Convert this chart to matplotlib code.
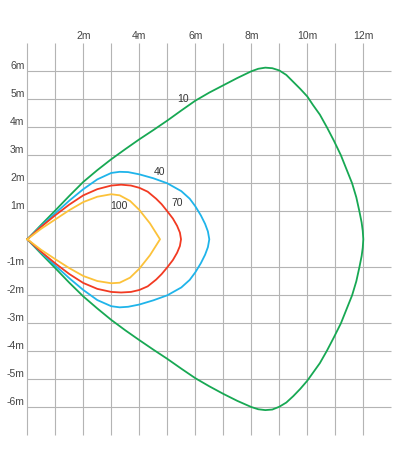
# -*- coding: utf-8 -*-

import numpy as np
import matplotlib.pyplot as plt

# =============================================================================
#               DATOS (metros) - lobulos de cobertura
# =============================================================================

x_ticks = [2, 4, 6, 8, 10, 12]
x_tick_labels = ['2m', '4m', '6m', '8m', '10m', '12m']
y_ticks = [6, 5, 4, 3, 2, 1, -1, -2, -3, -4, -5, -6]
y_tick_labels = ['6m', '5m', '4m', '3m', '2m', '1m',
                 '-1m', '-2m', '-3m', '-4m', '-5m', '-6m']

# curva 10
x_10 = [0, 0.5, 1, 1.5, 2, 2.5, 3, 3.5, 4, 4.5, 5, 5.5, 6, 6.5, 7, 7.5,
        7.75, 8, 8.25, 8.5, 8.75, 9, 9.25, 9.5, 9.75, 10, 10.2, 10.45,
        10.7, 10.95, 11.2, 11.4, 11.6, 11.75, 11.86, 11.94, 11.98, 12.0]
y_10_sup = [0, 0.52, 1.03, 1.55, 2.05, 2.47, 2.86, 3.22, 3.57, 3.9, 4.24,
            4.6, 4.95, 5.24, 5.5, 5.76, 5.88, 6.0, 6.09, 6.13, 6.11, 6.03,
            5.87, 5.62, 5.37, 5.1, 4.8, 4.45, 4.0, 3.52, 3.0, 2.5, 2.0,
            1.5, 1.0, 0.6, 0.3, 0]
y_10_inf = [0, -0.52, -1.03, -1.55, -2.04, -2.47, -2.88, -3.25, -3.6,
            -3.94, -4.27, -4.62, -4.96, -5.25, -5.52, -5.77, -5.88, -5.99,
            -6.07, -6.1, -6.08, -5.98, -5.83, -5.6, -5.34, -5.05, -4.77,
            -4.42, -3.98, -3.5, -3.0, -2.5, -2.0, -1.5, -1.0, -0.6, -0.3, 0]

# curva 40
x_40 = [0, 0.5, 1, 1.5, 2, 2.5, 3, 3.3, 3.6, 4, 4.5, 5, 5.5, 5.8, 6, 6.2,
        6.35, 6.45, 6.5]
y_40_sup = [0, 0.48, 0.93, 1.38, 1.79, 2.14, 2.37, 2.41, 2.4, 2.32, 2.18,
            2.0, 1.72, 1.45, 1.18, 0.85, 0.55, 0.28, 0]
y_40_inf = [0, -0.48, -0.94, -1.39, -1.81, -2.17, -2.39, -2.43, -2.41,
            -2.33, -2.18, -2.0, -1.72, -1.45, -1.18, -0.85, -0.55, -0.28, 0]

# curva 70
x_70 = [0, 0.5, 1, 1.5, 2, 2.5, 3, 3.35, 3.7, 4, 4.3, 4.6, 4.8, 5, 5.2,
        5.35, 5.45, 5.49]
y_70_sup = [0, 0.45, 0.86, 1.24, 1.57, 1.79, 1.92, 1.95, 1.92, 1.84, 1.7,
            1.45, 1.25, 1.0, 0.74, 0.48, 0.24, 0]
y_70_inf = [0, -0.45, -0.86, -1.24, -1.56, -1.77, -1.88, -1.9, -1.88,
            -1.81, -1.68, -1.44, -1.24, -1.0, -0.74, -0.48, -0.24, 0]

# curva 100
x_100 = [0, 0.5, 1, 1.5, 2, 2.5, 3, 3.3, 3.67, 4, 4.38, 4.74]
y_100_sup = [0, 0.38, 0.71, 1.04, 1.33, 1.52, 1.61, 1.57, 1.37, 1.05,
             0.57, 0]
y_100_inf = [0, -0.38, -0.71, -1.03, -1.31, -1.49, -1.57, -1.55, -1.37,
             -1.05, -0.57, 0]

curvas = [(x_10, y_10_sup, y_10_inf, '#17a853', '10', 5.55, 5.0),
          (x_40, y_40_sup, y_40_inf, '#1fb4ea', '40', 4.72, 2.39),
          (x_70, y_70_sup, y_70_inf, '#f23a22', '70', 5.36, 1.31),
          (x_100, y_100_sup, y_100_inf, '#fcc23a', '100', 3.28, 1.2)]

# =============================================================================
#                              PLOTEO
# =============================================================================

plt.rcParams['font.family'] = ['Liberation Sans', 'DejaVu Sans']

fig = plt.figure(figsize=(3.98, 4.70), dpi=100)
ax = fig.add_axes([0, 0, 1, 1])
ax.set_xlim(-0.975, 13.239)
ax.set_ylim(-8.239, 8.546)
ax.axis('off')

gris = '#b4b4b4'
ax.vlines(np.arange(0, 13), -7, 7, color=gris, lw=0.8, zorder=1)
ax.hlines(y_ticks, 0, 13, color=gris, lw=0.8, zorder=1)

for xt, lab in zip(x_ticks, x_tick_labels):
    ax.text(xt, 7.25, lab, ha='center', va='center', fontsize=7.5,
            color='#444444')
for yt, lab in zip(y_ticks, y_tick_labels):
    ax.text(-0.1, yt + 0.18, lab, ha='right', va='center', fontsize=7.5,
            color='#444444')

for xs, ys, yi, col, nom, lx, ly in curvas:
    xx = list(xs) + list(xs[::-1])
    yy = list(ys) + list(yi[::-1])
    ax.plot(xx, yy, color=col, lw=1.3, zorder=3, solid_joinstyle='round')
    ax.text(lx, ly, nom, ha='center', va='center', fontsize=7.5,
            color='#333333', zorder=4)

fig.savefig('out.png', dpi=100)
